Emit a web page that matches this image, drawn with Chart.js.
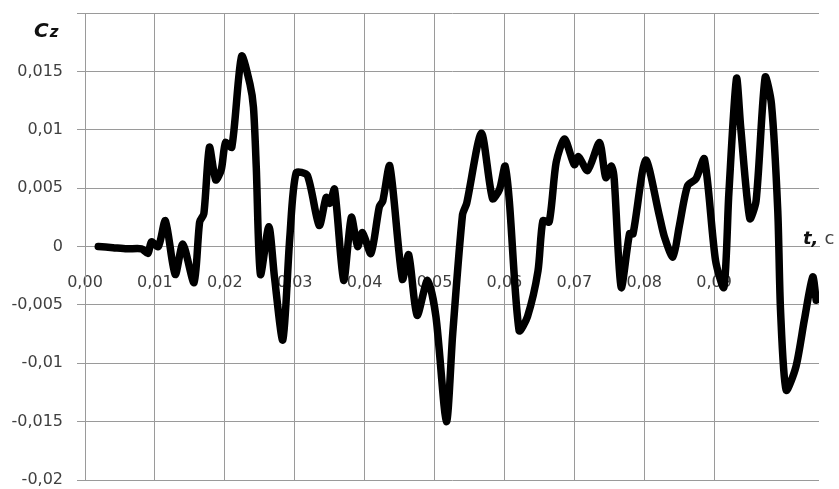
<!DOCTYPE html>
<html>
<head>
<meta charset="utf-8">
<script src="https://cdn.jsdelivr.net/npm/chart.js@4/dist/chart.umd.min.js"></script>
<style>
  html, body { margin: 0; padding: 0; background: #ffffff; }
  #wrap { width: 839px; height: 489px; }
</style>
</head>
<body>
<div id="wrap"><canvas id="cz" width="839" height="489"></canvas></div>
<script>
// Time, s
const timeValues = [
  0.0019, 0.0040, 0.0060, 0.0081, 0.0090, 0.0095, 0.0105, 0.0115, 0.0129, 0.0140,
  0.0156, 0.0164, 0.0170, 0.0178, 0.0187, 0.0195, 0.0201, 0.0210, 0.0224, 0.0236,
  0.0241, 0.0245, 0.0251, 0.0263, 0.0271, 0.0283, 0.0293, 0.0302, 0.0318, 0.0335,
  0.0345, 0.0350, 0.0357, 0.0370, 0.0381, 0.0390, 0.0397, 0.0409, 0.0421, 0.0426,
  0.0436, 0.0454, 0.0463, 0.0475, 0.0490, 0.0502, 0.0517, 0.0526, 0.0540, 0.0546,
  0.0567, 0.0583, 0.0593, 0.0601, 0.0607, 0.0621, 0.0633, 0.0648, 0.0655, 0.0664,
  0.0674, 0.0686, 0.0700, 0.0706, 0.0719, 0.0736, 0.0745, 0.0753, 0.0757, 0.0767,
  0.0779, 0.0784, 0.0802, 0.0821, 0.0829, 0.0841, 0.0850, 0.0862, 0.0874, 0.0886,
  0.0902, 0.0914, 0.0921, 0.0932, 0.0938, 0.0951, 0.0960, 0.0973, 0.0982, 0.0991,
  0.0995, 0.1003, 0.1017, 0.1029, 0.1041, 0.1046
];

// Side-force coefficient Cz
const czValues = [
  0.0000, -0.0001, -0.0002, -0.0002, -0.0006, 0.0004, 0.0000, 0.0022, -0.0024, 0.0002,
  -0.0031, 0.0021, 0.0028, 0.0085, 0.0057, 0.0066, 0.0089, 0.0085, 0.0163, 0.0139,
  0.0119, 0.0068, -0.0024, 0.0017, -0.0026, -0.0080, 0.0008, 0.0063, 0.0061, 0.0018,
  0.0042, 0.0037, 0.0049, -0.0029, 0.0025, 0.0000, 0.0012, -0.0006, 0.0034, 0.0039,
  0.0069, -0.0028, -0.0007, -0.0059, -0.0029, -0.0060, -0.0150, -0.0075, 0.0027, 0.0037,
  0.0097, 0.0041, 0.0049, 0.0069, 0.0039, -0.0072, -0.0060, -0.0021, 0.0022, 0.0021,
  0.0072, 0.0092, 0.0070, 0.0077, 0.0065, 0.0089, 0.0059, 0.0069, 0.0058, -0.0035,
  0.0011, 0.0011, 0.0074, 0.0028, 0.0008, -0.0009, 0.0017, 0.0052, 0.0058, 0.0075,
  -0.0012, -0.0035, 0.0045, 0.0144, 0.0102, 0.0024, 0.0039, 0.0145, 0.0122, 0.0031,
  -0.0055, -0.0123, -0.0103, -0.0063, -0.0026, -0.0046
];

// Axis ranges and tick steps
const xRange = [0, 0.105];
const xStep = 0.01;
const yRange = [-0.02, 0.02];
const yStep = 0.005;

const points = timeValues.map((t, i) => ({ x: t, y: czValues[i] }));

const FONT = '"DejaVu Sans", sans-serif';
const GRID = '#9a9a9a';

const axisTitles = {
  id: 'axisTitles',
  afterDraw(chart) {
    const ctx = chart.ctx;
    const yScale = chart.scales.y;
    const y0 = yScale.getPixelForValue(0);
    ctx.save();
    ctx.textBaseline = 'alphabetic';
    ctx.textAlign = 'left';
    // Cz
    ctx.fillStyle = '#111111';
    ctx.font = 'italic bold 20px ' + FONT;
    ctx.fillText('C', 34, 37);
    const wC = ctx.measureText('C').width;
    ctx.font = 'italic bold 15px ' + FONT;
    ctx.fillText('z', 34 + wC + 1, 37);
    // t, с
    const tx = chart.chartArea.right - 16;
    ctx.font = 'italic bold 18px ' + FONT;
    ctx.fillText('t,', tx, y0 - 3);
    const wt = ctx.measureText('t,').width;
    ctx.fillStyle = '#404040';
    ctx.font = '18px ' + FONT;
    ctx.fillText('с', tx + wt + 6, y0 - 3);
    ctx.restore();
  }
};

new Chart(document.getElementById('cz'), {
  type: 'scatter',
  data: {
    datasets: [{
      data: points,
      showLine: true,
      borderColor: '#000000',
      borderWidth: 7.5,
      borderCapStyle: 'round',
      borderJoinStyle: 'round',
      pointRadius: 0,
      tension: 0.25,
      fill: false
    }]
  },
  options: {
    responsive: false,
    animation: false,
    devicePixelRatio: 1,
    layout: { padding: { top: 13, right: 20, bottom: 9, left: 0 } },
    plugins: { legend: { display: false }, tooltip: { enabled: false } },
    scales: {
      x: {
        type: 'linear',
        position: { y: 0 },
        min: xRange[0],
        max: xRange[1],
        afterBuildTicks(scale) {
          scale.ticks = scale.ticks.filter(t => t.value <= 0.1 + 1e-9);
        },
        afterFit(scale) { scale.paddingLeft = 0; scale.paddingRight = 0; },
        ticks: {
          stepSize: xStep,
          autoSkip: false,
          maxRotation: 0,
          padding: 27,
          color: '#404040',
          font: { family: FONT, size: 16 },
          callback: v => v.toFixed(2).replace('.', ',')
        },
        grid: { color: GRID, lineWidth: 1, drawTicks: false },
        border: { color: GRID, width: 1 }
      },
      y: {
        type: 'linear',
        min: yRange[0],
        max: yRange[1],
        afterFit(scale) {
          scale.width = 85;
          scale.paddingTop = 0;
          scale.paddingBottom = 0;
        },
        ticks: {
          stepSize: yStep,
          padding: 14,
          color: '#404040',
          font: { family: FONT, size: 16 },
          callback: v => {
            const r = Math.round(v * 1000) / 1000;
            if (r >= 0.02) return '';
            return String(r).replace('.', ',');
          }
        },
        grid: { color: GRID, lineWidth: 1, tickLength: 8 },
        border: { color: GRID, width: 1 }
      }
    }
  },
  plugins: [axisTitles]
});
</script>
</body>
</html>
